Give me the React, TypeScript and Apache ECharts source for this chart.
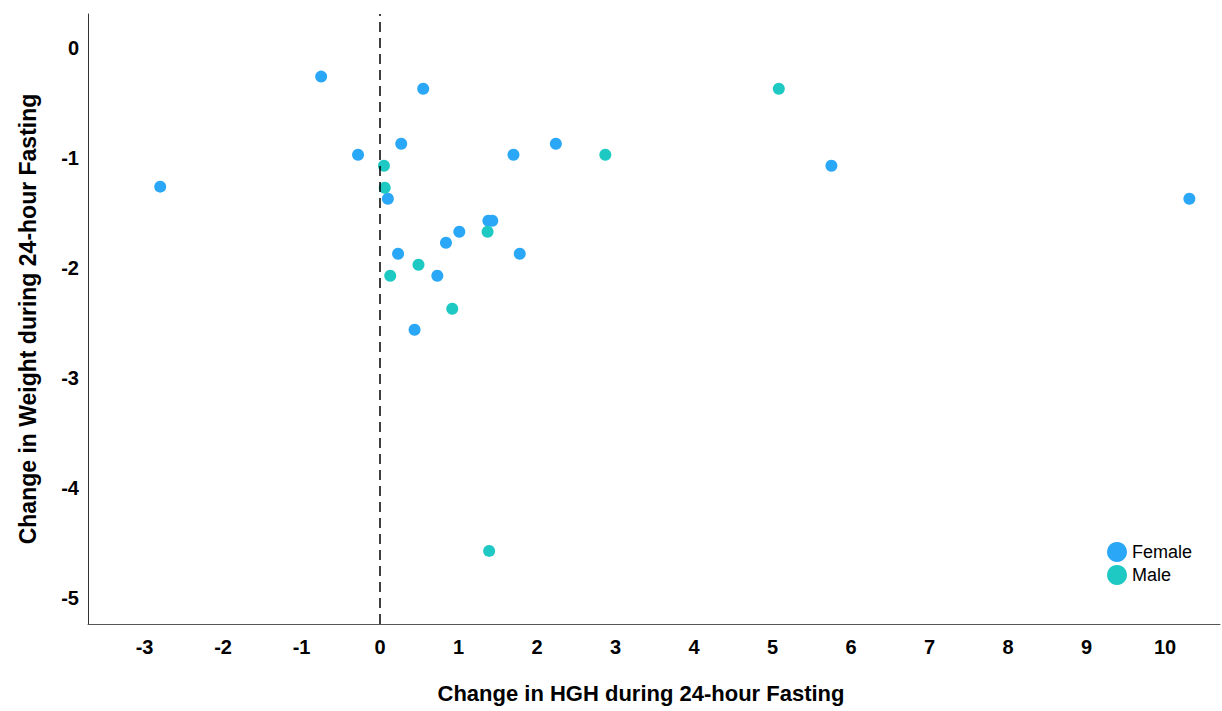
import React, { useEffect, useRef } from "react";
import * as echarts from "echarts";

const femaleX = [-2.8, -0.75, 0.55, -0.28, 0.27, 0.1, 1.7, 2.24, 5.75, 10.31, 1.38, 1.43, 1.01, 0.84, 0.23, 1.78, 0.73, 0.44];
const femaleY = [-1.26, -0.26, -0.37, -0.97, -0.87, -1.37, -0.97, -0.87, -1.07, -1.37, -1.57, -1.57, -1.67, -1.77, -1.87, -1.87, -2.07, -2.56];
const maleX = [5.08, 2.87, 0.05, 0.06, 1.37, 0.49, 0.13, 0.92, 1.39];
const maleY = [-0.37, -0.97, -1.07, -1.27, -1.67, -1.97, -2.07, -2.37, -4.57];
const xTicks = [-3, -2, -1, 0, 1, 2, 3, 4, 5, 6, 7, 8, 9, 10];
const yTicks = [0, -1, -2, -3, -4, -5];

const FONT = "'Liberation Sans', Arial, sans-serif";

export default function App() {
  const ref = useRef<HTMLDivElement>(null);
  useEffect(() => {
    if (!ref.current) return;
    const chart = echarts.init(ref.current, undefined, { renderer: "svg" });
    const female = femaleX.map((x, i) => [x, femaleY[i]]);
    const male = maleX.map((x, i) => [x, maleY[i]]);
    chart.setOption({
      animation: false,
      backgroundColor: "#ffffff",
      grid: { left: 88, right: 2, top: 14, bottom: 87, containLabel: false },
      legend: {
        orient: "vertical",
        left: 1107,
        top: 542,
        padding: 0,
        itemWidth: 20,
        itemHeight: 20,
        itemGap: 3,
        icon: "circle",
        textStyle: { fontFamily: FONT, fontSize: 18, color: "#000" },
        data: ["Female", "Male"],
      },
      xAxis: {
        type: "value",
        min: -3.72,
        max: 10.7,
        name: "Change in HGH during 24-hour Fasting",
        nameLocation: "middle",
        nameGap: 58,
        nameTextStyle: {
          fontFamily: FONT,
          fontSize: 22,
          fontWeight: "bold",
          color: "#000",
          padding: [0, 26, 0, 0],
        },
        axisLine: { show: true, onZero: false, lineStyle: { color: "#555", width: 1 } },
        axisTick: { show: false },
        splitLine: { show: false },
        axisLabel: {
          customValues: xTicks,
          margin: 13,
          fontFamily: FONT,
          fontSize: 20,
          fontWeight: "bold",
          color: "#000",
        },
      },
      yAxis: {
        type: "value",
        min: -5.234,
        max: 0.309,
        name: "Change in Weight during 24-hour Fasting",
        nameLocation: "middle",
        nameGap: 49,
        nameTextStyle: { fontFamily: FONT, fontSize: 23, fontWeight: "bold", color: "#000" },
        axisLine: { show: true, onZero: false, lineStyle: { color: "#333", width: 1 } },
        axisTick: { show: false },
        splitLine: { show: false },
        axisLabel: {
          customValues: yTicks,
          margin: 9,
          fontFamily: FONT,
          fontSize: 20,
          fontWeight: "bold",
          color: "#000",
        },
      },
      series: [
        {
          name: "Female",
          type: "scatter",
          data: female,
          symbolSize: 12,
          itemStyle: { color: "#2aa7f6", opacity: 1 },
          markLine: {
            silent: true,
            symbol: "none",
            label: { show: false },
            lineStyle: { color: "#000", type: [10, 6], width: 1.5 },
            data: [{ xAxis: 0 }],
          },
        },
        {
          name: "Male",
          type: "scatter",
          data: male,
          symbolSize: 12,
          itemStyle: { color: "#1ec8c3", opacity: 1 },
        },
      ],
    });
    return () => chart.dispose();
  }, []);
  return (
    <div
      ref={ref}
      style={{ position: "absolute", left: 0, top: 0, width: 1222, height: 711, background: "#fff" }}
    />
  );
}
